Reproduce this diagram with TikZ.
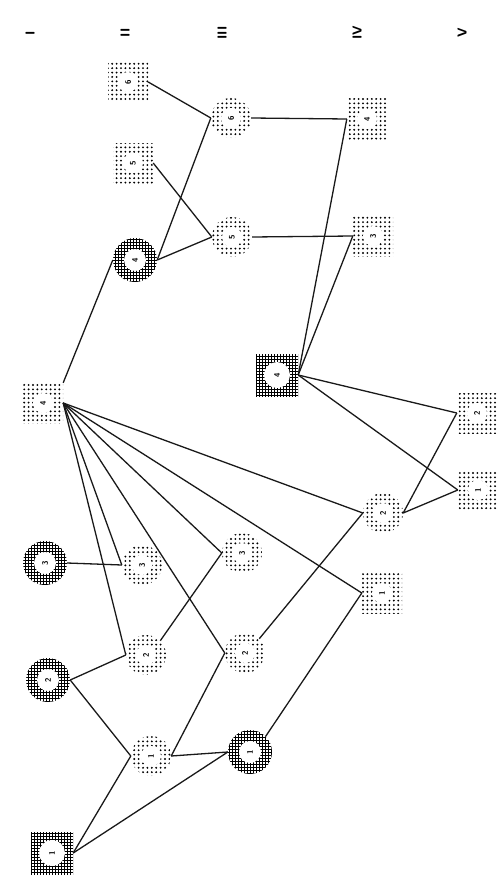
\documentclass[tikz,border=0pt]{standalone}
\usepackage{tikz}
\usetikzlibrary{patterns}
\pgfdeclarepatternformonly{puntos}{\pgfqpoint{-1pt}{-1pt}}{\pgfqpoint{5.4pt}{5.4pt}}{\pgfqpoint{4.4pt}{4.4pt}}%
  {\pgfpathcircle{\pgfqpoint{2.2pt}{2.2pt}}{1.05pt}\pgfusepath{fill}}
\pgfdeclarepatternformonly{rejilla}{\pgfqpoint{-1pt}{-1pt}}{\pgfqpoint{4pt}{4pt}}{\pgfqpoint{3pt}{3pt}}%
  {\pgfsetlinewidth{1.8pt}\pgfpathmoveto{\pgfqpoint{0pt}{1.5pt}}\pgfpathlineto{\pgfqpoint{3pt}{1.5pt}}%
   \pgfpathmoveto{\pgfqpoint{1.5pt}{0pt}}\pgfpathlineto{\pgfqpoint{1.5pt}{3pt}}\pgfusepath{stroke}}
\newcommand{\rt}[1]{\rotatebox{90}{#1}}
\tikzset{
  mac/.style={rectangle, minimum size=40pt, inner sep=0pt, pattern=puntos,
    path picture={\fill[white] (path picture bounding box.center) circle (10pt);},
    font=\fontsize{8}{9}\selectfont\bfseries\sffamily},
  hem/.style={mac, circle, minimum size=40pt},
  macaf/.style={mac, minimum size=42pt, pattern=rejilla,
    path picture={\fill[white] (path picture bounding box.center) circle (13pt);}},
  hemaf/.style={mac, circle, minimum size=44pt, pattern=rejilla,
    path picture={\fill[white] (path picture bounding box.center) circle (11pt);}},
  ln/.style={line width=1.3pt, black!90},
  gen/.style={font=\fontsize{13}{14}\selectfont\bfseries\sffamily},
}
\begin{document}
\begin{tikzpicture}[x=1pt, y=-1pt]
  \useasboundingbox (0,0) rectangle (498,880);
  % generations
  \node[gen] (g1) at (30,33)  {\rt{I}};
  \node[gen] (g2) at (125,33) {\rt{II}};
  \node[gen] (g3) at (222,33) {\rt{III}};
  \node[gen] (g4) at (357,33) {\rt{IV}};
  \node[gen] (g5) at (462,33) {\rt{V}};
  % I
  \node[mac]   (i4) at (43,403) {\rt{4}};
  \node[hemaf] (i3) at (45,563) {\rt{3}};
  \node[hemaf] (i2) at (48,680) {\rt{2}};
  \node[macaf] (i1) at (52,853) {\rt{1}};
  % II
  \node[mac]   (ii6) at (128,82)  {\rt{6}};
  \node[mac]   (ii5) at (133,163) {\rt{5}};
  \node[hemaf] (ii4) at (135,260) {\rt{4}};
  \node[hem]   (ii3) at (142,565) {\rt{3}};
  \node[hem]   (ii2) at (146,655) {\rt{2}};
  \node[hem]   (ii1) at (151,756) {\rt{1}};
  % III
  \node[hem]   (iii6) at (231,118) {\rt{6}};
  \node[hem]   (iii5) at (232,237) {\rt{5}};
  \node[hem]   (iii3) at (242,553) {\rt{3}};
  \node[hem]   (iii2) at (245,653) {\rt{2}};
  \node[hemaf] (iii1) at (250,752) {\rt{1}};
  % IV
  \node[mac]   (iv4) at (367,119) {\rt{4}};
  \node[mac]   (iv3) at (373,236) {\rt{3}};
  \node[macaf] (iv4b) at (277,375) {\rt{4}};
  \node[hem]   (iv2) at (383,513) {\rt{2}};
  \node[mac]   (iv1) at (382,593) {\rt{1}};
  % V
  \node[mac]   (v2) at (477,413) {\rt{2}};
  \node[mac]   (v1) at (478,490) {\rt{1}};
  % descent lines
  \draw[ln] (ii6.east)--(iii6.west); \draw[ln] (ii4.east)--(iii6.west);
  \draw[ln] (ii5.east)--(iii5.west); \draw[ln] (ii4.east)--(iii5.west);
  \draw[ln] (iii6.east)--(iv4.west); \draw[ln] (iii5.east)--(iv3.west);
  \draw[ln] (iv4.west)--(iv4b.east); \draw[ln] (iv3.west)--(iv4b.east);
  \draw[ln] (iv4b.east)--(v2.west); \draw[ln] (iv4b.east)--(v1.west);
  \draw[ln] (iv2.east)--(v2.west); \draw[ln] (iv2.east)--(v1.west);
  \draw[ln] (i4.north east)--(ii4.west);
  \foreach \h in {ii3,ii2,iii3,iii2,iv2,iv1}
    \draw[ln] (i4.east)--(\h.west);
  \draw[ln] (i3.east)--(ii3.west);
  \draw[ln] (i2.east)--(ii2.west); \draw[ln] (i2.east)--(ii1.west);
  \draw[ln] (i1.east)--(ii1.west); \draw[ln] (i1.east)--(iii1.west);
  \draw[ln] (ii1.east)--(iii1.west); \draw[ln] (ii1.east)--(iii2.west);
  \draw[ln] (ii2.north east)--(iii3.west);
  \draw[ln] (iii2.north east)--(iv2.west);
  \draw[ln] (iii1.north east)--(iv1.west);
\end{tikzpicture}
\end{document}
